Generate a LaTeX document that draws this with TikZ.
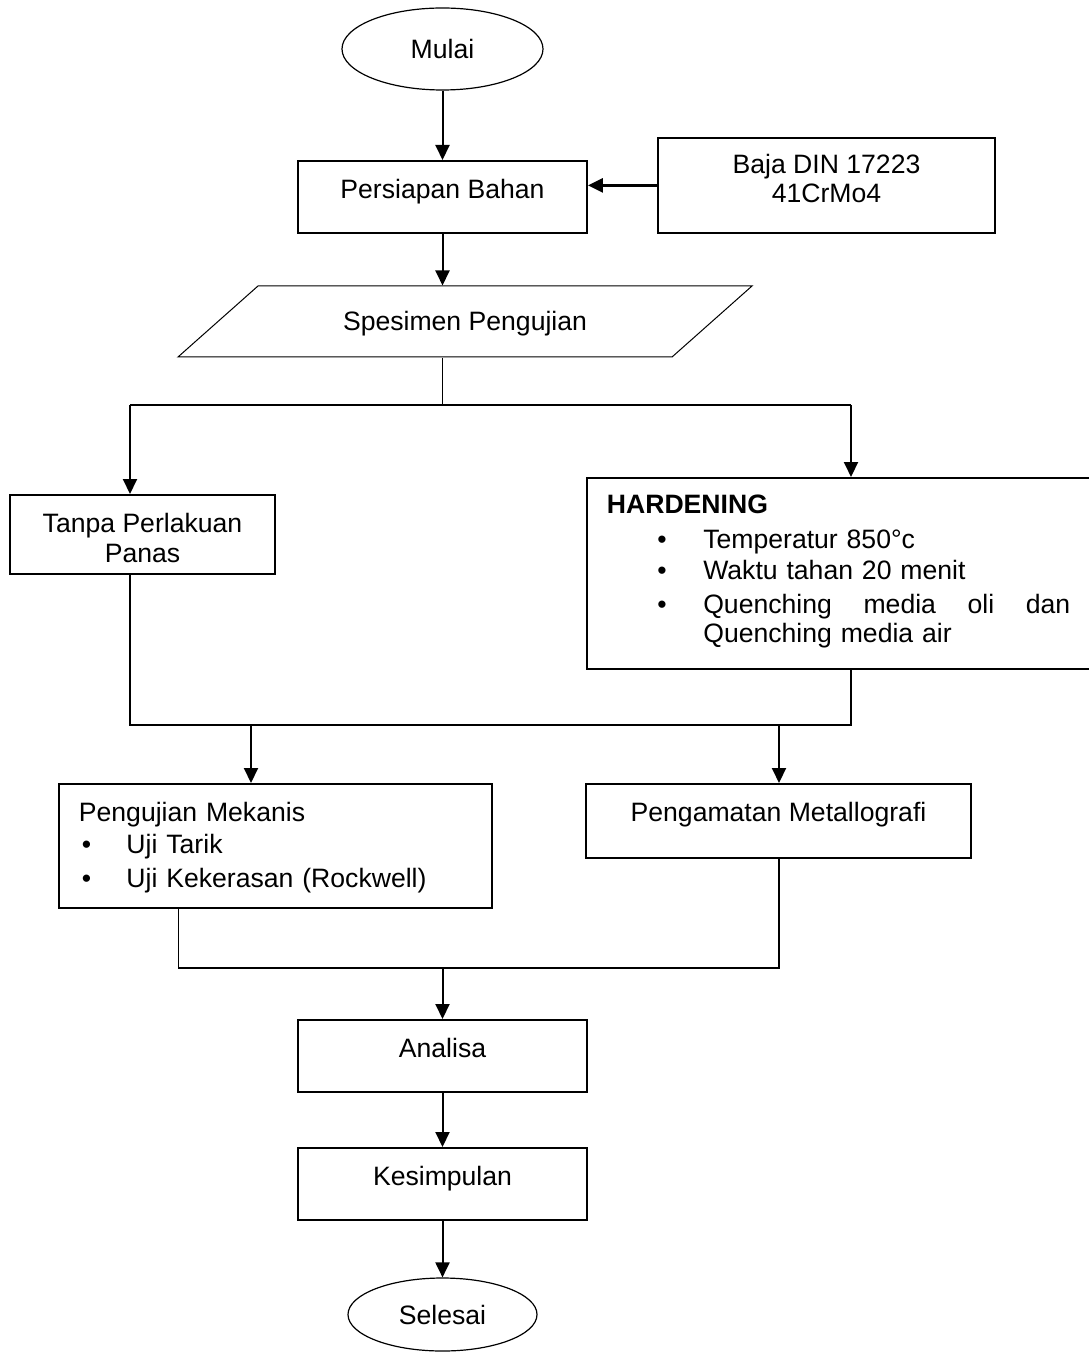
\documentclass[tikz,border=0pt]{standalone}
\usepackage{fontspec}
\setmainfont{Liberation Sans}
\usepackage{tikz}
\usetikzlibrary{positioning,arrows.meta,shapes.geometric}

\begin{document}
\begin{tikzpicture}[
    x=0.5pt, y=-0.5pt,
    every node/.style={font=\fontsize{13.3pt}{15.5pt}\selectfont},
    startnode/.style={ellipse, draw=black, line width=0.6pt, inner sep=0},
    boxnode/.style={rectangle, draw=black, line width=0.9pt, inner sep=0, anchor=north, align=center,
        text height=18.75pt, text depth=17.25pt, minimum width=144.5pt},
    listnode/.style={rectangle, draw=black, line width=0.9pt, inner xsep=10pt, inner ysep=0,
        anchor=north west, align=left},
    datanode/.style={trapezium, trapezium left angle=41.6, trapezium right angle=138.4,
        trapezium stretches body, draw=black, line width=0.5pt, inner sep=0,
        minimum width=287pt, text height=22.25pt, text depth=13.25pt},
    arr/.style={-{Triangle[width=7pt,length=7.5pt]}, draw=black, line width=1pt},
    line/.style={draw=black, line width=1pt},
    thinline/.style={draw=black, line width=0.5pt}
    ]
        \useasboundingbox (0,0) rectangle (1088,1352);

        %Nodes
        \node[startnode, minimum width=100.5pt, minimum height=41pt]
            (mulai)     at (442.5,49)   {Mulai};
        \node[boxnode]
            (pb)        at (442.5,160)  {Persiapan Bahan};
        \node[boxnode, minimum width=168.5pt, text height=32.25pt, text depth=15.25pt]
            (baja)      at (826.5,137)  {Baja DIN 17223\\[-1pt]41CrMo4};
        \node[datanode]
            (spes)      at (465,321.5)  {Spesimen Pengujian};
        \node[boxnode, minimum width=132.5pt, text height=33.75pt, text depth=5.75pt]
            (tanpa)     at (142.5,494)  {Tanpa Perlakuan\\[-0.5pt]Panas};
        \node[listnode, text width=240pt, text height=17.75pt, text depth=77.75pt]
            (hard)      at (586,477)    {\textbf{HARDENING}\\[2pt]
            \hspace*{25.2pt}\makebox[23pt][l]{\textbullet}Temperatur 850°c\\
            \hspace*{25.2pt}\makebox[23pt][l]{\textbullet}Waktu tahan 20 menit\\[1.5pt]
            \hspace*{25.2pt}\makebox[23pt][l]{\textbullet}\makebox[183.5pt][l]{Quenching\hfill media\hfill oli\hfill dan}\\[-1pt]
            \hspace*{48.2pt}Quenching media air};
        \node[listnode, text width=196.5pt, text height=18.75pt, text depth=43.25pt]
            (mek)       at (58,783)     {Pengujian Mekanis\\[0.5pt]
            \hspace*{1.5pt}\makebox[22.3pt][l]{\textbullet}Uji Tarik\\[1.5pt]
            \hspace*{1.5pt}\makebox[22.3pt][l]{\textbullet}Uji Kekerasan (Rockwell)};
        \node[boxnode, minimum width=192.5pt, text depth=18.25pt]
            (metal)     at (778.5,783)  {Pengamatan Metallografi};
        \node[boxnode]
            (analisa)   at (442.5,1019) {Analisa};
        \node[boxnode]
            (kesim)     at (442.5,1147) {Kesimpulan};
        \node[startnode, minimum width=94.5pt, minimum height=36.5pt]
            (selesai)   at (442.5,1314.5) {Selesai};

        %Junctions
        \coordinate (s1)  at (442.5,405);
        \coordinate (s1l) at (130,405);
        \coordinate (s1r) at (851,405);
        \coordinate (m1l) at (130,725);
        \coordinate (m1r) at (851,725);
        \coordinate (a1)  at (251,725);
        \coordinate (a2)  at (779,725);
        \coordinate (m2l) at (178,968);
        \coordinate (m2r) at (779,968);
        \coordinate (m2)  at (442.5,968);

        %Lines
        \draw[arr] (mulai.south) -- (pb.north);
        \draw[arr, line width=1.3pt] (baja.west) -- (baja.west -| pb.east);
        \draw[arr] (pb.south) -- (pb.south |- spes.north);
        \draw[thinline] (spes.south -| pb.south) -- (s1);
        \draw[line] (s1l) -- (s1r);
        \draw[arr] (s1l) -- (s1l |- tanpa.north);
        \draw[arr] (s1r) -- (s1r |- hard.north);
        \draw[line] (tanpa.south -| m1l) -- (m1l) -- (m1r) -- (hard.south -| m1r);
        \draw[arr] (a1) -- (a1 |- mek.north);
        \draw[arr] (a2) -- (a2 |- metal.north);
        \draw[thinline] (mek.south -| m2l) -- (m2l);
        \draw[line] (m2l) -- (m2r) -- (metal.south -| m2r);
        \draw[arr] (m2) -- (analisa.north);
        \draw[arr] (analisa.south) -- (kesim.north);
        \draw[arr] (kesim.south) -- (selesai.north);
\end{tikzpicture}
\end{document}
